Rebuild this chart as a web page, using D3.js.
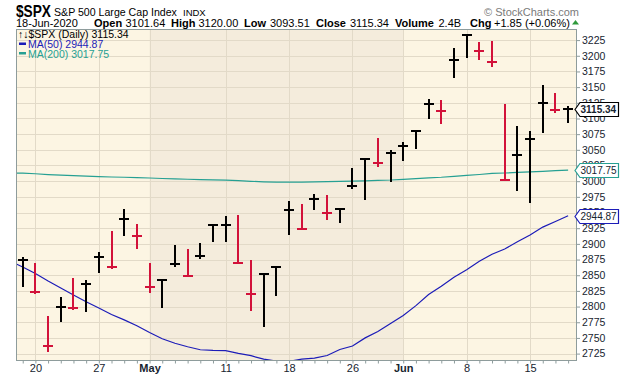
<!DOCTYPE html>
<html>
<head>
<meta charset="utf-8">
<script src="https://cdn.jsdelivr.net/npm/d3@7"></script>
<style>
  body { margin: 0; background: #fff; }
  svg text { font-family: "Liberation Sans", Arial, sans-serif; }
</style>
</head>
<body>
<svg id="chart" width="620" height="376"></svg>
<script>
// ---- data (daily bars, 17 Apr - 18 Jun 2020) ----
const dates = ["2020-04-17", "2020-04-20", "2020-04-21", "2020-04-22", "2020-04-23", "2020-04-24",
    "2020-04-27", "2020-04-28", "2020-04-29", "2020-04-30", "2020-05-01",
    "2020-05-04", "2020-05-05", "2020-05-06", "2020-05-07", "2020-05-08",
    "2020-05-11", "2020-05-12", "2020-05-13", "2020-05-14", "2020-05-15",
    "2020-05-18", "2020-05-19", "2020-05-20", "2020-05-21", "2020-05-22",
    "2020-05-26", "2020-05-27", "2020-05-28", "2020-05-29",
    "2020-06-01", "2020-06-02", "2020-06-03", "2020-06-04", "2020-06-05",
    "2020-06-08", "2020-06-09", "2020-06-10", "2020-06-11", "2020-06-12",
    "2020-06-15", "2020-06-16", "2020-06-17", "2020-06-18"];

const high = [2879.22, 2868.98, 2785.54, 2815.10, 2844.90, 2842.71,
    2887.72, 2921.15, 2954.86, 2930.91, 2869.09,
    2844.24, 2898.23, 2891.11, 2901.92, 2932.16,
    2944.25, 2945.82, 2874.14, 2852.80, 2865.01,
    2968.09, 2964.21, 2980.29, 2978.50, 2956.76,
    3021.72, 3036.25, 3068.67, 3049.17,
    3062.18, 3081.07, 3130.94, 3128.91, 3211.72,
    3233.13, 3222.71, 3223.27, 3123.53, 3088.42,
    3079.76, 3153.45, 3141.16, 3120.00];

const low = [2830.88, 2820.43, 2727.10, 2775.95, 2794.26, 2791.76,
    2852.89, 2860.71, 2912.16, 2892.47, 2821.61,
    2797.85, 2863.55, 2847.65, 2876.48, 2902.88,
    2903.44, 2869.59, 2793.15, 2766.64, 2816.78,
    2913.86, 2922.35, 2953.63, 2938.57, 2933.59,
    2988.17, 2969.75, 3023.40, 2998.61,
    3031.54, 3051.64, 3098.90, 3090.41, 3163.84,
    3196.00, 3193.11, 3181.49, 2999.49, 2984.47,
    2965.66, 3076.06, 3108.03, 3093.51];

const close = [2874.56, 2823.16, 2736.56, 2799.31, 2797.80, 2836.74,
    2878.48, 2863.39, 2939.51, 2912.43, 2830.71,
    2842.74, 2868.44, 2848.42, 2881.19, 2929.80,
    2930.32, 2870.12, 2820.00, 2852.50, 2863.70,
    2953.91, 2922.94, 2971.61, 2948.51, 2955.45,
    2991.77, 3036.13, 3029.73, 3044.31,
    3055.73, 3080.82, 3122.87, 3112.35, 3193.93,
    3232.39, 3207.18, 3190.14, 3002.10, 3041.31,
    3066.59, 3124.74, 3113.49, 3115.34];

// close of 16 Apr, only used to colour the first bar
const prevClose = 2799.55;

// moving averages: first value is 16 Apr (just left of the first bar, clipped)
const ma50 = [2872.29, 2863.09, 2852.64, 2840.82, 2829.76, 2818.56, 2807.71,
    2797.80, 2787.46, 2778.85, 2769.37, 2758.52,
    2748.62, 2741.47, 2735.88, 2731.17, 2730.19,
    2729.72, 2725.31, 2721.65, 2716.09, 2712.89,
    2712.52, 2716.05, 2717.83, 2721.98, 2731.47,
    2737.09, 2750.09, 2760.10, 2773.02,
    2785.95, 2801.47, 2819.18, 2832.48, 2846.85,
    2858.89, 2872.21, 2883.48, 2891.83, 2903.24,
    2914.04, 2926.76, 2935.75, 2944.87];

const ma200 = [3013.18, 3012.69, 3011.83, 3010.56, 3009.68, 3008.77, 3007.99,
    3007.38, 3006.63, 3006.26, 3005.80, 3005.03,
    3004.27, 3003.73, 3003.05, 3002.43, 3001.98,
    3001.61, 3000.83, 2999.83, 2999.02, 2998.44,
    2998.44, 2998.39, 2999.03, 2999.36, 2999.72,
    2999.99, 3000.57, 3001.31, 3001.90,
    3002.97, 3004.14, 3005.31, 3006.25, 3007.72,
    3009.26, 3010.68, 3012.40, 3013.02, 3013.88,
    3014.77, 3015.77, 3016.70, 3017.75];

const yTicks = [2725, 2750, 2775, 2800, 2825, 2850, 2875, 2900, 2925, 2950, 2975,
    3000, 3025, 3050, 3075, 3100, 3125, 3150, 3175, 3200, 3225];

const xTickDates = ["2020-04-20", "2020-04-27", "2020-05-01", "2020-05-11", "2020-05-18",
    "2020-05-26", "2020-06-01", "2020-06-08", "2020-06-15"];
const xTickLabels = ["20", "27", "May", "11", "18", "26", "Jun", "8", "15"];

// month that gets the darker background
const shadeFrom = "2020-05-01";
const shadeTo = "2020-06-01";

// ---- layout ----
const svg = d3.select("#chart");
const plot = { left: 16, right: 577, top: 29, bottom: 360.5 };

const BLACK = "#000000";
const RED = "#d2123a";
const BLUE = "#1c1cb8";
const TEAL = "#26a093";
const TXT = "#17242f";

const x = d3.scaleLinear()
    .domain([-0.53, 43.7])
    .range([plot.left, plot.right]);

const y = d3.scaleLinear()
    .domain([2714, 3242.7])
    .range([plot.bottom, plot.top]);

const idx = d => dates.indexOf(d);

// clip for everything inside the plot
svg.append("defs").append("clipPath").attr("id", "plotclip")
    .append("rect")
    .attr("x", plot.left).attr("y", plot.top)
    .attr("width", plot.right - plot.left).attr("height", plot.bottom - plot.top);

// backgrounds
svg.append("rect")
    .attr("x", plot.left).attr("y", plot.top)
    .attr("width", plot.right - plot.left).attr("height", plot.bottom - plot.top)
    .attr("fill", "#fcf5e3");

svg.append("rect")
    .attr("x", x(idx(shadeFrom))).attr("y", plot.top)
    .attr("width", x(idx(shadeTo)) - x(idx(shadeFrom))).attr("height", plot.bottom - plot.top)
    .attr("fill", "#f4ecdc");

// grid
const grid = svg.append("g").attr("clip-path", "url(#plotclip)")
    .attr("stroke", "#e2dac8").attr("stroke-width", 1)
    .attr("shape-rendering", "crispEdges");

grid.selectAll(".hg").data(yTicks).enter().append("line")
    .attr("x1", plot.left).attr("x2", plot.right)
    .attr("y1", d => Math.round(y(d)) + 0.5).attr("y2", d => Math.round(y(d)) + 0.5);

grid.selectAll(".vg").data(xTickDates).enter().append("line")
    .attr("y1", plot.top).attr("y2", plot.bottom)
    .attr("x1", d => Math.round(x(idx(d))) + 0.5).attr("x2", d => Math.round(x(idx(d))) + 0.5);

// moving averages
const maLine = d3.line()
    .x((d, i) => x(i - 1))
    .y(d => y(d));

const lines = svg.append("g").attr("clip-path", "url(#plotclip)");
lines.append("path").datum(ma200)
    .attr("d", maLine).attr("fill", "none")
    .attr("stroke", TEAL).attr("stroke-width", 1.2);
lines.append("path").datum(ma50)
    .attr("d", maLine).attr("fill", "none")
    .attr("stroke", BLUE).attr("stroke-width", 1.2);

// price bars: high-low stick with a close tick across it
const bars = svg.append("g").attr("clip-path", "url(#plotclip)")
    .attr("shape-rendering", "crispEdges");

dates.forEach((d, i) => {
    const prev = i === 0 ? prevClose : close[i - 1];
    const col = close[i] >= prev ? BLACK : RED;
    const cx = Math.round(x(i));
    const g = bars.append("g").attr("stroke", col).attr("stroke-width", 2);
    g.append("line")
        .attr("x1", cx).attr("x2", cx)
        .attr("y1", Math.round(y(high[i]))).attr("y2", Math.round(y(low[i])));
    const cy = Math.round(y(close[i]));
    g.append("line")
        .attr("x1", cx - 5).attr("x2", cx + 5)
        .attr("y1", cy).attr("y2", cy);
});

// plot border
svg.append("rect")
    .attr("x", plot.left + 0.5).attr("y", plot.top + 0.5)
    .attr("width", plot.right - plot.left - 1).attr("height", plot.bottom - plot.top - 0.5)
    .attr("fill", "none").attr("stroke", "#8e9c9c").attr("stroke-width", 1)
    .attr("shape-rendering", "crispEdges");

// right axis
const yAxis = d3.axisRight(y)
    .tickValues(yTicks)
    .tickSize(3)
    .tickPadding(2)
    .tickFormat(d3.format("d"));

const yg = svg.append("g")
    .attr("transform", `translate(${plot.right},0)`)
    .call(yAxis);
yg.select(".domain").remove();
yg.selectAll("line").attr("stroke", "#8e9c9c");
yg.selectAll("text").attr("fill", TXT).attr("font-size", "10.5px")
    .attr("font-family", "Liberation Sans, Arial, sans-serif");

// bottom axis: a tick for every bar, labels only on week starts
const labelAt = new Map(xTickDates.map((d, i) => [idx(d), xTickLabels[i]]));
const xAxis = d3.axisBottom(x)
    .tickValues(d3.range(dates.length))
    .tickSize(3)
    .tickPadding(1)
    .tickFormat(i => labelAt.get(i) || "");

const xg = svg.append("g")
    .attr("transform", `translate(0,${plot.bottom})`)
    .call(xAxis);
xg.select(".domain").remove();
xg.selectAll("line").attr("stroke", "#8e9c9c");
xg.selectAll("text").attr("fill", TXT).attr("font-size", "11px")
    .attr("font-family", "Liberation Sans, Arial, sans-serif")
    .attr("font-weight", t => (labelAt.get(t) === "May" || labelAt.get(t) === "Jun") ? "bold" : "normal");

// value tags on the right axis (drawn over the tick labels, as in the original)
function tag(value, label, stroke, bold) {
    const cy = Math.round(y(value)) + 0.5;
    const x0 = plot.right - 2, x1 = 618.5;
    const h = 7;
    svg.append("path")
        .attr("d", `M${x0},${cy} L${x0 + 5},${cy - h} L${x1},${cy - h} L${x1},${cy + h} L${x0 + 5},${cy + h} Z`)
        .attr("fill", "#ffffff").attr("stroke", stroke).attr("stroke-width", 1.2);
    svg.append("text")
        .attr("x", x0 + 5.5).attr("y", cy + 3.8)
        .attr("font-size", "10px")
        .attr("font-weight", bold ? "bold" : "normal")
        .attr("fill", TXT)
        .text(label);
}
tag(ma200[ma200.length - 1], "3017.75", TEAL, false);
tag(ma50[ma50.length - 1], "2944.87", BLUE, false);
tag(close[close.length - 1], "3115.34", BLACK, true);

// legend
const legend = svg.append("g").attr("font-size", "10.5px");
legend.append("text").attr("x", 18).attr("y", 38).attr("fill", BLACK)
    .text("↑↓$SPX (Daily) 3115.34");
legend.append("rect").attr("x", 19).attr("y", 42.5).attr("width", 7).attr("height", 2.5).attr("fill", BLUE);
legend.append("text").attr("x", 28).attr("y", 48).attr("fill", BLUE).text("MA(50) 2944.87");
legend.append("rect").attr("x", 19).attr("y", 52).attr("width", 7).attr("height", 2.5).attr("fill", TEAL);
legend.append("text").attr("x", 28).attr("y", 57.5).attr("fill", TEAL).text("MA(200) 3017.75");

// header
svg.append("text").attr("x", 16).attr("y", 17)
    .attr("font-size", "17px").attr("font-weight", "bold").attr("fill", "#000")
    .attr("textLength", 35).attr("lengthAdjust", "spacingAndGlyphs")
    .text("$SPX");
svg.append("text").attr("x", 54).attr("y", 16)
    .attr("font-size", "10.6px").attr("fill", "#000")
    .text("S&P 500 Large Cap Index");
svg.append("text").attr("x", 183).attr("y", 16)
    .attr("font-size", "9.5px").attr("fill", "#000")
    .text("INDX");
svg.append("text").attr("x", 579).attr("y", 16).attr("text-anchor", "end")
    .attr("font-size", "11px").attr("fill", "#7a7a7a")
    .text("© StockCharts.com");

const info = [
    { x: 16, t: "18-Jun-2020", b: false },
    { x: 94, t: "Open", b: true },
    { x: 125.5, t: "3101.64", b: false },
    { x: 171, t: "High", b: true },
    { x: 198.5, t: "3120.00", b: false },
    { x: 244, t: "Low", b: true },
    { x: 270, t: "3093.51", b: false },
    { x: 316, t: "Close", b: true },
    { x: 350, t: "3115.34", b: false },
    { x: 395, t: "Volume", b: true },
    { x: 438.5, t: "2.4B", b: false },
    { x: 470, t: "Chg", b: true },
    { x: 494, t: "+1.85 (+0.06%)", b: false }
];
svg.append("g").selectAll("text").data(info).enter().append("text")
    .attr("x", d => d.x).attr("y", 26.5)
    .attr("font-size", "11px")
    .attr("font-weight", d => d.b ? "bold" : "normal")
    .attr("fill", "#000")
    .text(d => d.t);

svg.append("path")
    .attr("d", "M572,24.5 L575.5,20 L579,24.5 Z")
    .attr("fill", "#2f9a3c");
</script>
</body>
</html>
